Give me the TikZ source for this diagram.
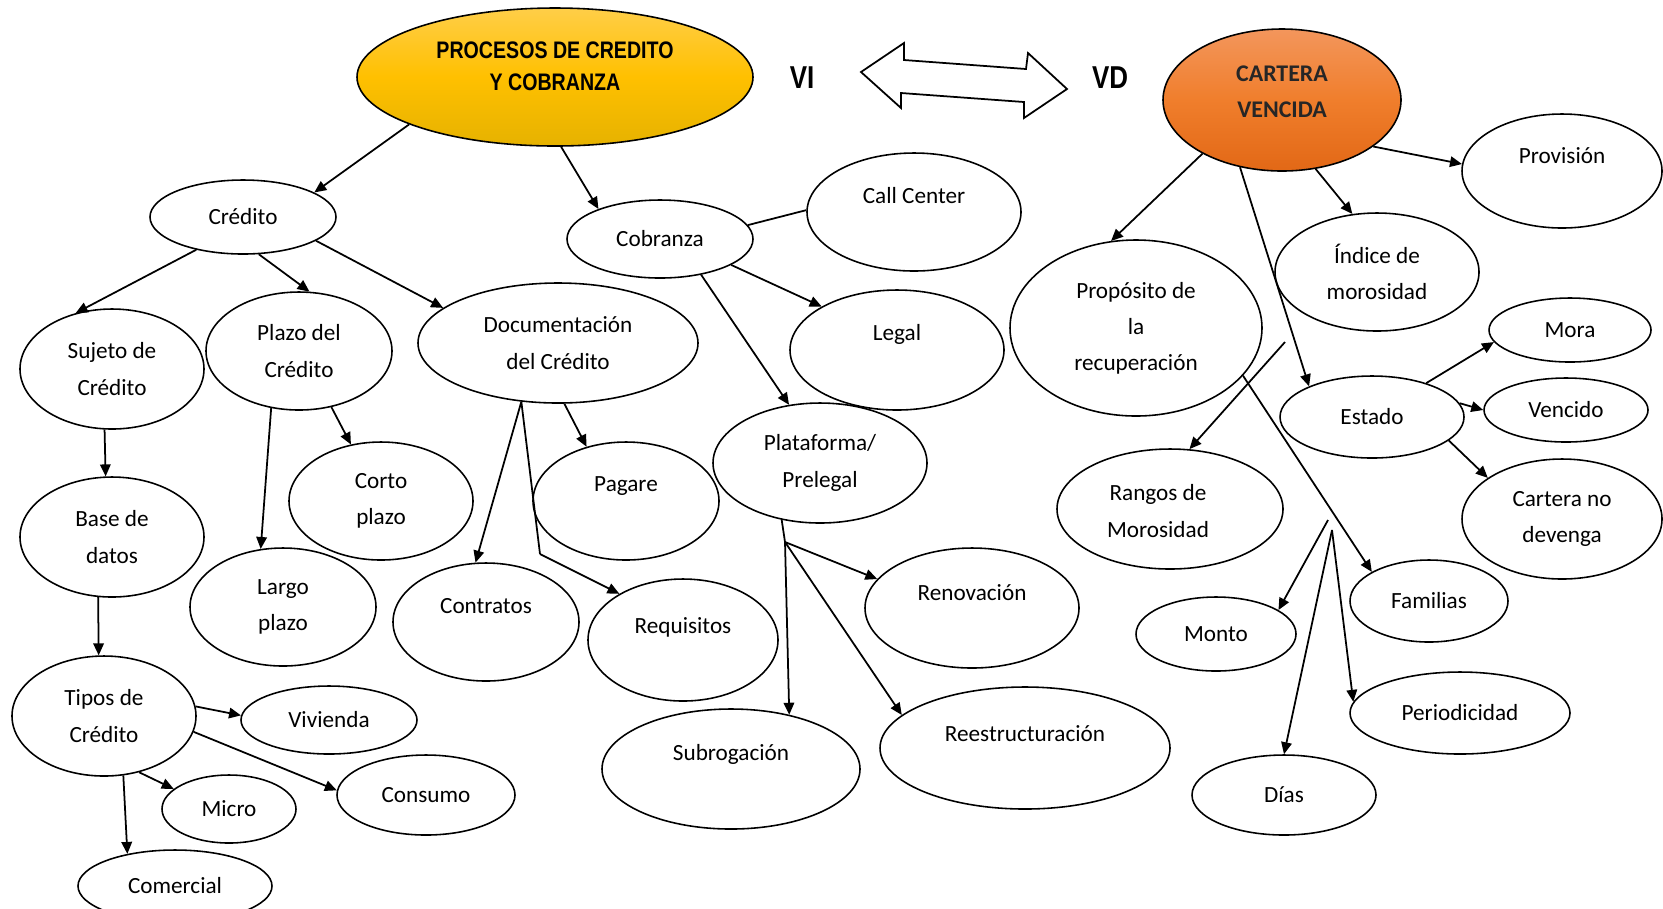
\documentclass[tikz,border=0pt]{standalone}
\usepackage{fontspec}
\setmainfont{Carlito}
\newfontfamily\narrowfont[FakeStretch=0.82]{Liberation Sans}
\usetikzlibrary{arrows.meta,shapes.geometric}
\definecolor{procTop}{RGB}{255,206,72}
\definecolor{procMid}{RGB}{255,192,0}
\definecolor{procBot}{RGB}{230,178,0}
\definecolor{cartTop}{RGB}{243,150,92}
\definecolor{cartMid}{RGB}{240,126,44}
\definecolor{cartBot}{RGB}{226,104,22}
\definecolor{darktext}{RGB}{38,38,38}
\begin{document}
\begin{tikzpicture}[
    bubble/.style={draw, ellipse, line width=0.45pt, inner sep=0pt, align=center, font=\fontsize{6.6}{10.3}\selectfont},
    txt/.style={inner sep=0pt, align=center, font=\fontsize{6.6}{10.3}\selectfont},
    arrowline/.style={line width=0.5pt, -{Triangle[length=3.4pt,width=3pt]}},
    bareline/.style={line width=0.5pt}
]
    \useasboundingbox (0,0) rectangle (16.63,-9.08);

    \node[bubble, top color=procTop, bottom color=procBot, middle color=procMid, minimum width=3.96cm, minimum height=1.38cm] (proc) at (5.55,-0.77) {};
    \node[inner sep=0pt, align=center, font=\narrowfont\bfseries\fontsize{6.8}{9.1}\selectfont] (proc-t) at (5.55,-0.66) {PROCESOS DE CREDITO\\Y COBRANZA};
    \node[inner sep=0pt, font=\narrowfont\bfseries\fontsize{9}{10}\selectfont] (vi) at (8.02,-0.78) {VI};
    \node[inner sep=0pt, font=\narrowfont\bfseries\fontsize{9}{10}\selectfont] (vd) at (11.10,-0.78) {VD};
    \node[bubble, top color=cartTop, bottom color=cartBot, middle color=cartMid, minimum width=2.38cm, minimum height=1.42cm] (cart) at (12.82,-1.00) {};
    \node[txt, text=darktext, font=\bfseries\fontsize{6.8}{10.3}\selectfont] (cart-t) at (12.82,-0.92) {CARTERA\\VENCIDA};

    \draw[line width=0.5pt] (8.61,-0.72) -- (9.04,-0.43) -- (9.04,-0.60) -- (10.26,-0.69) -- (10.28,-0.53) -- (10.67,-0.89) -- (10.24,-1.18) -- (10.24,-1.02) -- (9.01,-0.93) -- (9.01,-1.08) -- cycle;

    \node[bubble, minimum width=1.86cm, minimum height=0.74cm] (cred) at (2.43,-2.17) {Crédito};
    \node[bubble, minimum width=1.86cm, minimum height=0.78cm] (cobr) at (6.60,-2.39) {Cobranza};
    \node[bubble, minimum width=2.14cm, minimum height=1.18cm] (call) at (9.14,-2.12) {};
    \node[txt] (call-t) at (9.14,-1.96) {Call Center};
    \node[bubble, minimum width=2.14cm, minimum height=1.20cm] (legal) at (8.97,-3.50) {};
    \node[txt] (legal-t) at (8.97,-3.34) {Legal};
    \node[bubble, minimum width=1.84cm, minimum height=1.20cm] (sujeto) at (1.12,-3.69) {Sujeto de\\Crédito};
    \node[bubble, minimum width=1.86cm, minimum height=1.18cm] (plazo) at (2.99,-3.51) {Plazo del\\Crédito};
    \node[bubble, minimum width=2.80cm, minimum height=1.20cm] (docu) at (5.58,-3.43) {Documentación\\del Crédito};
    \node[bubble, minimum width=1.84cm, minimum height=1.18cm] (corto) at (3.81,-5.01) {Corto\\plazo};
    \node[bubble, minimum width=1.86cm, minimum height=1.18cm] (pagare) at (6.26,-5.01) {};
    \node[txt] (pagare-t) at (6.26,-4.86) {Pagare};
    \node[bubble, minimum width=2.14cm, minimum height=1.20cm] (plat) at (8.20,-4.63) {Plataforma/\\Prelegal};
    \node[bubble, minimum width=1.84cm, minimum height=1.20cm] (base) at (1.12,-5.37) {Base de\\datos};
    \node[bubble, minimum width=1.86cm, minimum height=1.18cm] (largo) at (2.83,-6.07) {Largo\\plazo};
    \node[bubble, minimum width=1.86cm, minimum height=1.18cm] (contr) at (4.86,-6.22) {};
    \node[txt] (contr-t) at (4.86,-6.06) {Contratos};
    \node[bubble, minimum width=1.90cm, minimum height=1.22cm] (requi) at (6.83,-6.40) {};
    \node[txt] (requi-t) at (6.83,-6.27) {Requisitos};
    \node[bubble, minimum width=2.14cm, minimum height=1.20cm] (renov) at (9.72,-6.08) {};
    \node[txt] (renov-t) at (9.72,-5.93) {Renovación};
    \node[bubble, minimum width=2.58cm, minimum height=1.20cm] (subro) at (7.31,-7.69) {};
    \node[txt] (subro-t) at (7.31,-7.54) {Subrogación};
    \node[bubble, minimum width=2.90cm, minimum height=1.22cm] (reest) at (10.25,-7.48) {};
    \node[txt] (reest-t) at (10.25,-7.34) {Reestructuración};
    \node[bubble, minimum width=1.84cm, minimum height=1.20cm] (tipos) at (1.04,-7.16) {Tipos de\\Crédito};
    \node[bubble, minimum width=1.76cm, minimum height=0.68cm] (vivi) at (3.29,-7.20) {Vivienda};
    \node[bubble, minimum width=1.34cm, minimum height=0.68cm] (micro) at (2.29,-8.09) {Micro};
    \node[bubble, minimum width=1.78cm, minimum height=0.80cm] (consu) at (4.26,-7.95) {Consumo};
    \node[bubble, minimum width=1.94cm, minimum height=0.72cm] (comer) at (1.75,-8.86) {Comercial};

    \node[bubble, minimum width=2.00cm, minimum height=1.14cm] (provi) at (15.62,-1.71) {};
    \node[txt] (provi-t) at (15.62,-1.56) {Provisión};
    \node[bubble, minimum width=2.04cm, minimum height=1.18cm] (indice) at (13.77,-2.72) {Índice de\\morosidad};
    \node[bubble, minimum width=2.52cm, minimum height=1.76cm] (propo) at (11.36,-3.28) {Propósito de\\la\\recuperación};
    \node[bubble, minimum width=1.62cm, minimum height=0.64cm] (mora) at (15.70,-3.30) {Mora};
    \node[bubble, minimum width=1.84cm, minimum height=0.82cm] (estado) at (13.72,-4.17) {Estado};
    \node[bubble, minimum width=1.64cm, minimum height=0.64cm] (venc) at (15.66,-4.10) {Vencido};
    \node[bubble, minimum width=2.00cm, minimum height=1.20cm] (cndev) at (15.62,-5.19) {Cartera no\\devenga};
    \node[bubble, minimum width=2.26cm, minimum height=1.20cm] (rangos) at (11.70,-5.09) {};
    \node[txt] (rangos-t) at (11.58,-5.11) {Rangos de\\Morosidad};
    \node[bubble, minimum width=1.58cm, minimum height=0.82cm] (famil) at (14.29,-6.01) {Familias};
    \node[bubble, minimum width=1.60cm, minimum height=0.74cm] (monto) at (12.16,-6.34) {Monto};
    \node[bubble, minimum width=2.20cm, minimum height=0.82cm] (perio) at (14.60,-7.13) {Periodicidad};
    \node[bubble, minimum width=1.84cm, minimum height=0.80cm] (dias) at (12.84,-7.95) {Días};

    \draw[arrowline] (proc.198) -- (cred.19);
    \draw[arrowline] (proc.275) -- (cobr.154);
    \draw[arrowline] (cred.215) -- (sujeto.123);
    \draw[arrowline] (cred.293) -- (plazo.80);
    \draw[arrowline] (cred.342) -- (docu.163);
    \draw[bareline] (cobr.9) -- (call.179);
    \draw[arrowline] (cobr.340) -- (legal.150);
    \draw[arrowline] (cobr.319) -- (plat.118);
    \draw[arrowline] (sujeto.263) -- (base.96);
    \draw[arrowline] (base.257) -- (tipos.95);
    \draw[arrowline] (plazo.300) -- (corto.118);
    \draw[arrowline] (plazo.244) -- (largo.111);
    \draw[arrowline] (docu.276) -- (pagare.126);
    \draw[arrowline] (docu.238) -- (contr.100);
    \coordinate (reqbend) at (5.40,-5.54);
    \draw[bareline] (docu.238) -- (reqbend);
    \draw[arrowline] (reqbend) -- (requi.144);
    \coordinate (platjoint) at (7.85,-5.42);
    \draw[bareline] (plat.236) -- (platjoint);
    \draw[arrowline] (platjoint) -- (subro.43);
    \draw[arrowline] (platjoint) -- (renov.163);
    \draw[arrowline] (platjoint) -- (reest.165);
    \draw[arrowline] (tipos.6) -- (vivi.177);
    \draw[arrowline] (tipos.350) -- (consu.177);
    \draw[arrowline] (tipos.302) -- (micro.160);
    \draw[arrowline] (tipos.288) -- (comer.146);

    \draw[arrowline] (cart.333) -- (provi.176);
    \draw[arrowline] (cart.296) -- (indice.113);
    \draw[arrowline] (cart.214) -- (propo.106);
    \draw[arrowline] (cart.238) -- (estado.154);
    \draw[arrowline] (estado.32) -- (mora.189);
    \draw[arrowline] (estado.9) -- (venc.180);
    \draw[arrowline] (estado.343) -- (cndev.151);
    \coordinate (rangstart) at (12.85,-3.42);
    \draw[arrowline] (rangstart) -- (rangos.72);
    \draw[arrowline] (propo.336) -- (famil.153);
    \coordinate (montjoint) at (13.28,-5.20);
    \coordinate (diasjoint) at (13.32,-5.30);
    \draw[arrowline] (montjoint) -- (monto.21);
    \draw[arrowline] (diasjoint) -- (dias.90);
    \draw[arrowline] (diasjoint) -- (perio.174);
\end{tikzpicture}
\end{document}
